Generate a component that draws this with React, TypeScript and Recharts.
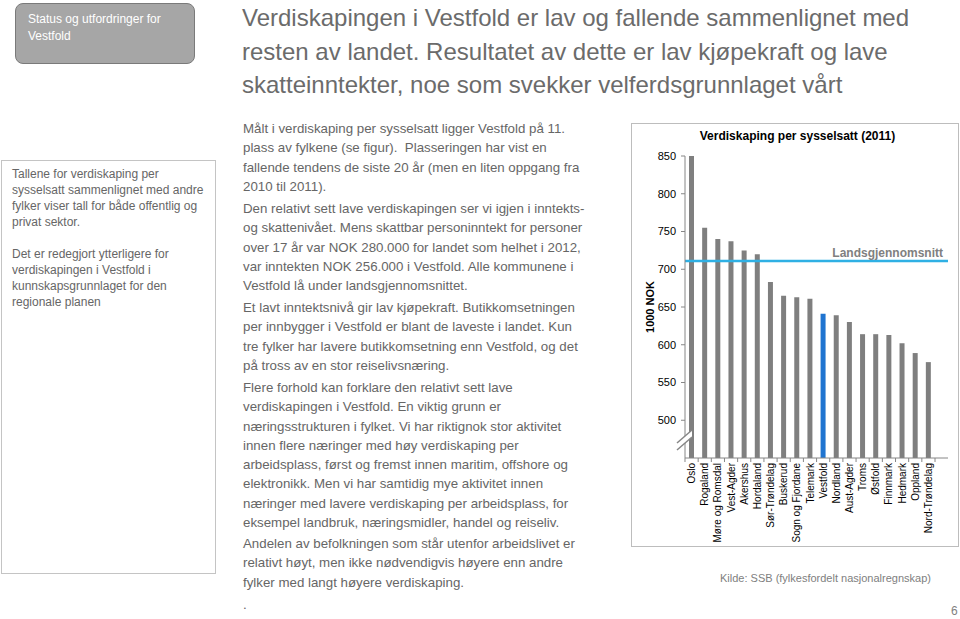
import { BarChart, Bar, XAxis, YAxis, Cell, ReferenceLine } from 'recharts';

// Verdiskaping per sysselsatt (2011), 1000 NOK, sortert synkende
const fylker = [
  'Oslo',
  'Rogaland',
  'Møre og Romsdal',
  'Vest-Agder',
  'Akershus',
  'Hordaland',
  'Sør-Trøndelag',
  'Buskerud',
  'Sogn og Fjordane',
  'Telemark',
  'Vestfold',
  'Nordland',
  'Aust-Agder',
  'Troms',
  'Østfold',
  'Finnmark',
  'Hedmark',
  'Oppland',
  'Nord-Trøndelag',
];
const verdiskaping = [850, 755, 740, 737, 725, 720, 683, 665, 663, 661, 641, 639, 630, 614, 614, 613, 602, 589, 577];
const landsgjennomsnitt = 711;
const yTicks = [500, 550, 600, 650, 700, 750, 800, 850];
const markert = 'Vestfold';

const data = fylker.map((fylke, i) => ({ fylke, verdi: verdiskaping[i] }));

const FONT = "'Liberation Sans', Arial, Helvetica, sans-serif";
const AXIS = '#868686';
const TEXT = '#666666';

// half a category band, used for the Excel-style ticks between bars
const HALF_BAND = 6.58;

function FylkeTick({ x, y, payload, index }: any) {
  const last = index === fylker.length - 1;
  return (
    <g transform={`translate(${x},${y})`}>
      <line x1={-HALF_BAND} x2={-HALF_BAND} y1={-5} y2={-1} stroke={AXIS} />
      {last && <line x1={HALF_BAND} x2={HALF_BAND} y1={-5} y2={-1} stroke={AXIS} />}
      <text transform="rotate(-90)" textAnchor="end" dy="0.35em" fontSize={10} fill="#000">
        {payload.value}
      </text>
    </g>
  );
}

function UnitLabel({ viewBox }: any) {
  const cx = viewBox.x + 18;
  const cy = viewBox.y + viewBox.height / 2;
  return (
    <text
      x={cx}
      y={cy}
      transform={`rotate(-90, ${cx}, ${cy})`}
      textAnchor="middle"
      dominantBaseline="central"
      fontSize={11}
      fontWeight="bold"
      fill="#000"
    >
      1000 NOK
    </text>
  );
}

function SnittLabel({ viewBox }: any) {
  return (
    <text
      x={viewBox.x + viewBox.width - 5}
      y={viewBox.y - 4}
      textAnchor="end"
      fontSize={12}
      fontWeight="bold"
      fill="#808080"
    >
      Landsgjennomsnitt
    </text>
  );
}

function Chart() {
  return (
    <BarChart
      width={327}
      height={423}
      data={data}
      margin={{ top: 32, right: 11, left: 0, bottom: 0 }}
    >
      <XAxis
        dataKey="fylke"
        interval={0}
        tickLine={false}
        tickSize={4}
        tickMargin={1}
        axisLine={{ stroke: AXIS }}
        padding={{ left: 0, right: 13 }}
        height={89}
        tick={<FylkeTick />}
      />
      <YAxis
        domain={[450, 850]}
        allowDataOverflow
        ticks={yTicks}
        width={53}
        tickSize={4}
        tickMargin={5}
        tickLine={{ stroke: AXIS }}
        axisLine={{ stroke: AXIS }}
        tick={{ fill: '#000', fontSize: 11 }}
        label={(props: any) => <UnitLabel {...props} />}
      />
      <Bar dataKey="verdi" barSize={5} isAnimationActive={false}>
        {data.map((d) => (
          <Cell key={d.fylke} fill={d.fylke === markert ? '#1f74d0' : '#7f7f7f'} />
        ))}
      </Bar>
      <ReferenceLine
        y={landsgjennomsnitt}
        stroke="#2fb0e4"
        strokeWidth={2.5}
        label={(props: any) => <SnittLabel {...props} />}
      />
    </BarChart>
  );
}

const para: React.CSSProperties = {
  position: 'absolute',
  left: 243,
  fontSize: 13.3,
  lineHeight: '19.3px',
  color: TEXT,
  whiteSpace: 'nowrap',
};

export default function App() {
  return (
    <div
      style={{
        position: 'absolute',
        left: 0,
        top: 0,
        width: 960,
        height: 619,
        overflow: 'hidden',
        background: '#fff',
        fontFamily: FONT,
      }}
    >
      {/* section tab */}
      <div
        style={{
          position: 'absolute',
          left: 15,
          top: 3,
          width: 180,
          height: 61,
          boxSizing: 'border-box',
          background: '#a6a6a6',
          border: '1px solid #7a7a7a',
          borderRadius: 8,
          color: '#fff',
          fontSize: 12,
          lineHeight: '17px',
          padding: '7px 0 0 12px',
        }}
      >
        Status og utfordringer for
        <br />
        Vestfold
      </div>

      {/* headline */}
      <div
        style={{
          position: 'absolute',
          left: 242,
          top: 1,
          fontSize: 24,
          lineHeight: '33.5px',
          color: '#6b6b6b',
          whiteSpace: 'nowrap',
        }}
      >
        Verdiskapingen i Vestfold er lav og fallende sammenlignet med
        <br />
        resten av landet. Resultatet av dette er lav kjøpekraft og lave
        <br />
        skatteinntekter, noe som svekker velferdsgrunnlaget vårt
      </div>

      {/* left note */}
      <div
        style={{
          position: 'absolute',
          left: 1,
          top: 160,
          width: 215,
          height: 414,
          boxSizing: 'border-box',
          border: '1px solid #c4c4c4',
          color: TEXT,
          fontSize: 12,
          lineHeight: '16px',
          padding: '5px 0 0 10px',
          whiteSpace: 'nowrap',
        }}
      >
        Tallene for verdiskaping per
        <br />
        sysselsatt sammenlignet med andre
        <br />
        fylker viser tall for både offentlig og
        <br />
        privat sektor.
        <br />
        <br />
        Det er redegjort ytterligere for
        <br />
        verdiskapingen i Vestfold i
        <br />
        kunnskapsgrunnlaget for den
        <br />
        regionale planen
      </div>

      {/* body text */}
      <div style={{ ...para, top: 119 }}>
        Målt i verdiskaping per sysselsatt ligger Vestfold på 11.
        <br />
        plass av fylkene (se figur).&nbsp; Plasseringen har vist en
        <br />
        fallende tendens de siste 20 år (men en liten oppgang fra
        <br />
        2010 til 2011).
      </div>
      <div style={{ ...para, top: 199 }}>
        Den relativt sett lave verdiskapingen ser vi igjen i inntekts-
        <br />
        og skattenivået. Mens skattbar personinntekt for personer
        <br />
        over 17 år var NOK 280.000 for landet som helhet i 2012,
        <br />
        var inntekten NOK 256.000 i Vestfold. Alle kommunene i
        <br />
        Vestfold lå under landsgjennomsnittet.
      </div>
      <div style={{ ...para, top: 298 }}>
        Et lavt inntektsnivå gir lav kjøpekraft. Butikkomsetningen
        <br />
        per innbygger i Vestfold er blant de laveste i landet. Kun
        <br />
        tre fylker har lavere butikkomsetning enn Vestfold, og det
        <br />
        på tross av en stor reiselivsnæring.
      </div>
      <div style={{ ...para, top: 378 }}>
        Flere forhold kan forklare den relativt sett lave
        <br />
        verdiskapingen i Vestfold. En viktig grunn er
        <br />
        næringsstrukturen i fylket. Vi har riktignok stor aktivitet
        <br />
        innen flere næringer med høy verdiskaping per
        <br />
        arbeidsplass, først og fremst innen maritim, offshore og
        <br />
        elektronikk. Men vi har samtidig mye aktivitet innen
        <br />
        næringer med lavere verdiskaping per arbeidsplass, for
        <br />
        eksempel landbruk, næringsmidler, handel og reiseliv.
      </div>
      <div style={{ ...para, top: 534 }}>
        Andelen av befolkningen som står utenfor arbeidslivet er
        <br />
        relativt høyt, men ikke nødvendigvis høyere enn andre
        <br />
        fylker med langt høyere verdiskaping.
      </div>
      <div style={{ ...para, top: 595 }}>.</div>

      {/* chart frame */}
      <div
        style={{
          position: 'absolute',
          left: 631,
          top: 123,
          width: 328,
          height: 424,
          boxSizing: 'border-box',
          border: '1px solid #bdbdbd',
        }}
      />
      <div
        style={{
          position: 'absolute',
          left: 632,
          top: 129,
          width: 327,
          textAlign: 'center',
          fontSize: 12,
          fontWeight: 'bold',
          color: '#000',
          paddingLeft: 4,
          boxSizing: 'border-box',
        }}
      >
        Verdiskaping per sysselsatt (2011)
      </div>
      <div style={{ position: 'absolute', left: 632, top: 124 }}>
        <Chart />
      </div>
      {/* axis break */}
      <svg
        style={{ position: 'absolute', left: 670, top: 424 }}
        width={30}
        height={32}
      >
        <polygon points="7,19 22,6 22,13 7,26" fill="#fff" />
        <line x1={7} y1={19} x2={22} y2={6} stroke={AXIS} strokeWidth={1.5} />
        <line x1={7} y1={26} x2={22} y2={13} stroke={AXIS} strokeWidth={1.5} />
      </svg>

      <div
        style={{
          position: 'absolute',
          left: 720,
          top: 572,
          fontSize: 11,
          color: '#808080',
          whiteSpace: 'nowrap',
        }}
      >
        Kilde: SSB (fylkesfordelt nasjonalregnskap)
      </div>
      <div style={{ position: 'absolute', left: 951, top: 604, fontSize: 12, color: '#808080' }}>6</div>
    </div>
  );
}
